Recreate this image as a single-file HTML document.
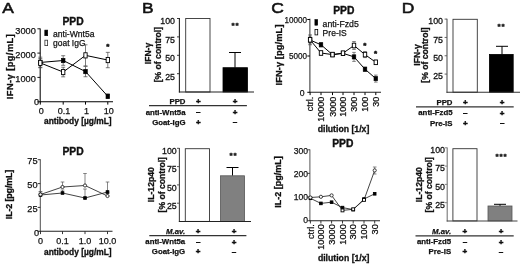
<!DOCTYPE html>
<html lang="en"><head><meta charset="utf-8"><title>Figure</title>
<style>
html,body{margin:0;padding:0;background:#fff;}
body{width:520px;height:265px;overflow:hidden;}
svg{display:block;filter:blur(0.35px);}
svg text{font-family:"Liberation Sans", sans-serif;}
</style></head><body>
<svg width="520" height="265" viewBox="0 0 520 265" style="font-family:'Liberation Sans', sans-serif;fill:#111">
<rect width="520" height="265" fill="#fff" stroke="none"/>
<text x="2.3" y="13.1" text-anchor="start" style="font-size:15.4px;" textLength="11.6" lengthAdjust="spacingAndGlyphs" stroke="#111" stroke-width="0.55">A</text>
<text x="142" y="13.1" text-anchor="start" style="font-size:15.4px;" textLength="11.6" lengthAdjust="spacingAndGlyphs" stroke="#111" stroke-width="0.55">B</text>
<text x="271.2" y="13.1" text-anchor="start" style="font-size:15.4px;" textLength="12.6" lengthAdjust="spacingAndGlyphs" stroke="#111" stroke-width="0.55">C</text>
<text x="401.8" y="13.1" text-anchor="start" style="font-size:15.4px;" textLength="12.6" lengthAdjust="spacingAndGlyphs" stroke="#111" stroke-width="0.55">D</text>
<text x="73" y="25" text-anchor="middle" style="font-size:10.3px;font-weight:bold;" stroke="#111" stroke-width="0.38">PPD</text>
<line x1="40.2" y1="28.400000000000002" x2="40.2" y2="102.3" stroke="#111" stroke-width="1.1"/>
<line x1="37.400000000000006" y1="28.8" x2="40.2" y2="28.8" stroke="#000" stroke-width="0.9"/>
<text x="35.8" y="33.6" text-anchor="end" style="font-size:9.2px;" stroke="#111" stroke-width="0.25">3000</text>
<line x1="37.400000000000006" y1="53.1" x2="40.2" y2="53.1" stroke="#000" stroke-width="0.9"/>
<text x="35.8" y="57.7" text-anchor="end" style="font-size:9.2px;" stroke="#111" stroke-width="0.25">2000</text>
<line x1="37.400000000000006" y1="77.4" x2="40.2" y2="77.4" stroke="#000" stroke-width="0.9"/>
<text x="35.8" y="81.6" text-anchor="end" style="font-size:9.2px;" stroke="#111" stroke-width="0.25">1000</text>
<line x1="37.400000000000006" y1="101.8" x2="40.2" y2="101.8" stroke="#000" stroke-width="0.9"/>
<text x="39" y="105.3" text-anchor="end" style="font-size:9.2px;" stroke="#111" stroke-width="0.25">0</text>
<line x1="39.7" y1="101.8" x2="113" y2="101.8" stroke="#000" stroke-width="1.1"/>
<line x1="40.3" y1="101.8" x2="40.3" y2="104.6" stroke="#000" stroke-width="1"/>
<text x="41.199999999999996" y="113.8" text-anchor="middle" style="font-size:9px;" stroke="#111" stroke-width="0.25">0</text>
<line x1="63.2" y1="101.8" x2="63.2" y2="104.6" stroke="#000" stroke-width="1"/>
<text x="64.10000000000001" y="113.8" text-anchor="middle" style="font-size:9px;" stroke="#111" stroke-width="0.25">0.1</text>
<line x1="85.5" y1="101.8" x2="85.5" y2="104.6" stroke="#000" stroke-width="1"/>
<text x="86.4" y="113.8" text-anchor="middle" style="font-size:9px;" stroke="#111" stroke-width="0.25">1</text>
<line x1="107.8" y1="101.8" x2="107.8" y2="104.6" stroke="#000" stroke-width="1"/>
<text x="108.7" y="113.8" text-anchor="middle" style="font-size:9px;" stroke="#111" stroke-width="0.25">10</text>
<text x="77.8" y="123.8" text-anchor="middle" style="font-size:8.4px;font-weight:bold;" stroke="#111" stroke-width="0.3">antibody [µg/mL]</text>
<text x="12.8" y="66.7" text-anchor="middle" style="font-size:9.3px;font-weight:bold;" transform="rotate(-90 12.8 66.7)" textLength="65" lengthAdjust="spacing" stroke="#111" stroke-width="0.3">IFN-γ  [pg/mL]</text>
<polyline points="40.3,62.919999999999995 63.2,72.03999999999999 85.5,55.36 107.8,60.04" fill="none" stroke="#000" stroke-width="1"/>
<polyline points="40.3,62.44 63.2,60.519999999999996 85.5,71.56 107.8,96.28" fill="none" stroke="#000" stroke-width="1"/>
<line x1="40.3" y1="58.599999999999994" x2="40.3" y2="67.24" stroke="#444" stroke-width="0.7"/>
<line x1="38.3" y1="58.599999999999994" x2="42.3" y2="58.599999999999994" stroke="#444" stroke-width="0.7"/>
<line x1="38.3" y1="67.24" x2="42.3" y2="67.24" stroke="#444" stroke-width="0.7"/>
<line x1="63.2" y1="67.24" x2="63.2" y2="76.84" stroke="#444" stroke-width="0.7"/>
<line x1="61.2" y1="67.24" x2="65.2" y2="67.24" stroke="#444" stroke-width="0.7"/>
<line x1="61.2" y1="76.84" x2="65.2" y2="76.84" stroke="#444" stroke-width="0.7"/>
<line x1="85.5" y1="44.8" x2="85.5" y2="65.91999999999999" stroke="#444" stroke-width="0.7"/>
<line x1="83.5" y1="44.8" x2="87.5" y2="44.8" stroke="#444" stroke-width="0.7"/>
<line x1="83.5" y1="65.91999999999999" x2="87.5" y2="65.91999999999999" stroke="#444" stroke-width="0.7"/>
<line x1="107.8" y1="52.36" x2="107.8" y2="67.72" stroke="#444" stroke-width="0.7"/>
<line x1="105.8" y1="52.36" x2="109.8" y2="52.36" stroke="#444" stroke-width="0.7"/>
<line x1="105.8" y1="67.72" x2="109.8" y2="67.72" stroke="#444" stroke-width="0.7"/>
<line x1="40.3" y1="57.16" x2="40.3" y2="67.72" stroke="#444" stroke-width="0.7"/>
<line x1="38.3" y1="57.16" x2="42.3" y2="57.16" stroke="#444" stroke-width="0.7"/>
<line x1="38.3" y1="67.72" x2="42.3" y2="67.72" stroke="#444" stroke-width="0.7"/>
<line x1="63.2" y1="55.72" x2="63.2" y2="65.32" stroke="#444" stroke-width="0.7"/>
<line x1="61.2" y1="55.72" x2="65.2" y2="55.72" stroke="#444" stroke-width="0.7"/>
<line x1="61.2" y1="65.32" x2="65.2" y2="65.32" stroke="#444" stroke-width="0.7"/>
<line x1="85.5" y1="66.4" x2="85.5" y2="76.72" stroke="#444" stroke-width="0.7"/>
<line x1="83.5" y1="66.4" x2="87.5" y2="66.4" stroke="#444" stroke-width="0.7"/>
<line x1="83.5" y1="76.72" x2="87.5" y2="76.72" stroke="#444" stroke-width="0.7"/>
<line x1="107.8" y1="94.12" x2="107.8" y2="98.44" stroke="#444" stroke-width="0.7"/>
<line x1="105.8" y1="94.12" x2="109.8" y2="94.12" stroke="#444" stroke-width="0.7"/>
<line x1="105.8" y1="98.44" x2="109.8" y2="98.44" stroke="#444" stroke-width="0.7"/>
<rect x="38.5" y="60.24" width="3.6" height="4.4" fill="#000" stroke="#000" stroke-width="0.6"/>
<rect x="61.4" y="58.32" width="3.6" height="4.4" fill="#000" stroke="#000" stroke-width="0.6"/>
<rect x="83.7" y="69.36" width="3.6" height="4.4" fill="#000" stroke="#000" stroke-width="0.6"/>
<rect x="106.0" y="94.08" width="3.6" height="4.4" fill="#000" stroke="#000" stroke-width="0.6"/>
<rect x="38.65" y="60.32" width="3.3" height="5.2" fill="#fff" stroke="#000" stroke-width="0.9"/>
<rect x="61.55" y="69.44" width="3.3" height="5.2" fill="#fff" stroke="#000" stroke-width="0.9"/>
<rect x="83.85" y="52.76" width="3.3" height="5.2" fill="#fff" stroke="#000" stroke-width="0.9"/>
<rect x="106.15" y="57.44" width="3.3" height="5.2" fill="#fff" stroke="#000" stroke-width="0.9"/>
<rect x="44.8" y="30.1" width="2.9" height="5.6" fill="#000" stroke="#000" stroke-width="0.6"/>
<rect x="44.9" y="40.2" width="2.7" height="5.4" fill="#fff" stroke="#333" stroke-width="0.8"/>
<text x="53" y="36.5" text-anchor="start" style="font-size:9px;" textLength="41.5" lengthAdjust="spacingAndGlyphs" stroke="#111" stroke-width="0.25">anti-Wnt5a</text>
<text x="53" y="45.8" text-anchor="start" style="font-size:9px;" textLength="32.5" lengthAdjust="spacingAndGlyphs" stroke="#111" stroke-width="0.25">goat IgG</text>
<text x="107.9" y="48.8" text-anchor="middle" style="font-size:8px;font-weight:bold;" stroke="#111" stroke-width="0.5">*</text>
<text x="73" y="155" text-anchor="middle" style="font-size:10.3px;font-weight:bold;" stroke="#111" stroke-width="0.38">PPD</text>
<line x1="40.3" y1="159.29999999999998" x2="40.3" y2="231.8" stroke="#444" stroke-width="0.95"/>
<line x1="37.699999999999996" y1="159.7" x2="40.3" y2="159.7" stroke="#222" stroke-width="0.9"/>
<text x="37.6" y="164.0" text-anchor="end" style="font-size:9.2px;" stroke="#111" stroke-width="0.25">75</text>
<line x1="37.699999999999996" y1="183.6" x2="40.3" y2="183.6" stroke="#222" stroke-width="0.9"/>
<text x="37.6" y="188.0" text-anchor="end" style="font-size:9.2px;" stroke="#111" stroke-width="0.25">50</text>
<line x1="37.699999999999996" y1="207.4" x2="40.3" y2="207.4" stroke="#222" stroke-width="0.9"/>
<text x="37.6" y="211.9" text-anchor="end" style="font-size:9.2px;" stroke="#111" stroke-width="0.25">25</text>
<line x1="37.699999999999996" y1="231.3" x2="40.3" y2="231.3" stroke="#222" stroke-width="0.9"/>
<text x="39" y="235.5" text-anchor="end" style="font-size:9.2px;" stroke="#111" stroke-width="0.25">0</text>
<line x1="39.8" y1="231.3" x2="112.5" y2="231.3" stroke="#222" stroke-width="1.05"/>
<line x1="40.5" y1="231.3" x2="40.5" y2="234.10000000000002" stroke="#222" stroke-width="0.9"/>
<text x="40.5" y="244" text-anchor="middle" style="font-size:9px;" stroke="#111" stroke-width="0.25">0</text>
<line x1="62.5" y1="231.3" x2="62.5" y2="234.10000000000002" stroke="#222" stroke-width="0.9"/>
<text x="62.5" y="244" text-anchor="middle" style="font-size:9px;" stroke="#111" stroke-width="0.25">0.1</text>
<line x1="85" y1="231.3" x2="85" y2="234.10000000000002" stroke="#222" stroke-width="0.9"/>
<text x="85" y="244" text-anchor="middle" style="font-size:9px;" stroke="#111" stroke-width="0.25">1.0</text>
<line x1="107.5" y1="231.3" x2="107.5" y2="234.10000000000002" stroke="#222" stroke-width="0.9"/>
<text x="107.5" y="244" text-anchor="middle" style="font-size:9px;" stroke="#111" stroke-width="0.25">10.0</text>
<text x="77.8" y="255" text-anchor="middle" style="font-size:8.4px;font-weight:bold;" stroke="#111" stroke-width="0.3">antibody [µg/mL]</text>
<text x="12" y="194.4" text-anchor="middle" style="font-size:9px;font-weight:bold;" transform="rotate(-90 12 194.4)" textLength="49.5" lengthAdjust="spacing" stroke="#111" stroke-width="0.3">IL-2 [pg/mL]</text>
<polyline points="40.5,194.5 62.5,187 85,185.5 107.5,196" fill="none" stroke="#222" stroke-width="0.85"/>
<polyline points="40.5,195 62.5,193 85,198 107.5,192" fill="none" stroke="#222" stroke-width="0.85"/>
<line x1="40.5" y1="191.5" x2="40.5" y2="194.5" stroke="#555" stroke-width="0.7"/>
<line x1="38.7" y1="191.5" x2="42.3" y2="191.5" stroke="#555" stroke-width="0.7"/>
<line x1="38.7" y1="194.5" x2="42.3" y2="194.5" stroke="#555" stroke-width="0.7"/>
<line x1="62.5" y1="182" x2="62.5" y2="187" stroke="#555" stroke-width="0.7"/>
<line x1="60.7" y1="182" x2="64.3" y2="182" stroke="#555" stroke-width="0.7"/>
<line x1="60.7" y1="187" x2="64.3" y2="187" stroke="#555" stroke-width="0.7"/>
<line x1="85" y1="173.5" x2="85" y2="185.5" stroke="#555" stroke-width="0.7"/>
<line x1="83.2" y1="173.5" x2="86.8" y2="173.5" stroke="#555" stroke-width="0.7"/>
<line x1="83.2" y1="185.5" x2="86.8" y2="185.5" stroke="#555" stroke-width="0.7"/>
<line x1="107.5" y1="193" x2="107.5" y2="196" stroke="#555" stroke-width="0.7"/>
<line x1="105.7" y1="193" x2="109.3" y2="193" stroke="#555" stroke-width="0.7"/>
<line x1="105.7" y1="196" x2="109.3" y2="196" stroke="#555" stroke-width="0.7"/>
<line x1="40.5" y1="192" x2="40.5" y2="195" stroke="#555" stroke-width="0.7"/>
<line x1="38.7" y1="192" x2="42.3" y2="192" stroke="#555" stroke-width="0.7"/>
<line x1="38.7" y1="195" x2="42.3" y2="195" stroke="#555" stroke-width="0.7"/>
<line x1="62.5" y1="190" x2="62.5" y2="193" stroke="#555" stroke-width="0.7"/>
<line x1="60.7" y1="190" x2="64.3" y2="190" stroke="#555" stroke-width="0.7"/>
<line x1="60.7" y1="193" x2="64.3" y2="193" stroke="#555" stroke-width="0.7"/>
<line x1="85" y1="189" x2="85" y2="198" stroke="#555" stroke-width="0.7"/>
<line x1="83.2" y1="189" x2="86.8" y2="189" stroke="#555" stroke-width="0.7"/>
<line x1="83.2" y1="198" x2="86.8" y2="198" stroke="#555" stroke-width="0.7"/>
<line x1="107.5" y1="182" x2="107.5" y2="192" stroke="#555" stroke-width="0.7"/>
<line x1="105.7" y1="182" x2="109.3" y2="182" stroke="#555" stroke-width="0.7"/>
<line x1="105.7" y1="192" x2="109.3" y2="192" stroke="#555" stroke-width="0.7"/>
<rect x="39.2" y="193.7" width="2.6" height="2.6" fill="#000" stroke="#000" stroke-width="0.9"/>
<rect x="61.2" y="191.7" width="2.6" height="2.6" fill="#000" stroke="#000" stroke-width="0.9"/>
<rect x="83.7" y="196.7" width="2.6" height="2.6" fill="#000" stroke="#000" stroke-width="0.9"/>
<rect x="106.2" y="190.7" width="2.6" height="2.6" fill="#000" stroke="#000" stroke-width="0.9"/>
<circle cx="40.5" cy="194.5" r="1.6" fill="#fff" stroke="#111" stroke-width="0.8"/>
<circle cx="62.5" cy="187" r="1.6" fill="#fff" stroke="#111" stroke-width="0.8"/>
<circle cx="85" cy="185.5" r="1.6" fill="#fff" stroke="#111" stroke-width="0.8"/>
<circle cx="107.5" cy="196" r="1.6" fill="#fff" stroke="#111" stroke-width="0.8"/>
<rect x="185.7" y="18.5" width="24.30000000000001" height="73.5" fill="#fff" stroke="#333" stroke-width="0.9"/>
<line x1="235" y1="52.5" x2="235" y2="67.7" stroke="#000" stroke-width="1"/>
<line x1="229" y1="52.5" x2="241" y2="52.5" stroke="#000" stroke-width="1"/>
<rect x="223" y="67.7" width="24.5" height="24.299999999999997" fill="#000" stroke="#000" stroke-width="0.8"/>
<line x1="179.4" y1="18.1" x2="179.4" y2="92.5" stroke="#222" stroke-width="1.1"/>
<line x1="177.0" y1="18.5" x2="179.4" y2="18.5" stroke="#222" stroke-width="0.9"/>
<text x="175" y="24.4" text-anchor="end" style="font-size:9.5px;" textLength="14.7" lengthAdjust="spacingAndGlyphs" stroke="#111" stroke-width="0.3">100</text>
<line x1="177.0" y1="36.9" x2="179.4" y2="36.9" stroke="#222" stroke-width="0.9"/>
<text x="175" y="42.8" text-anchor="end" style="font-size:9.5px;" textLength="9.8" lengthAdjust="spacingAndGlyphs" stroke="#111" stroke-width="0.3">75</text>
<line x1="177.0" y1="55.3" x2="179.4" y2="55.3" stroke="#222" stroke-width="0.9"/>
<text x="175" y="61.2" text-anchor="end" style="font-size:9.5px;" textLength="9.8" lengthAdjust="spacingAndGlyphs" stroke="#111" stroke-width="0.3">50</text>
<line x1="177.0" y1="73.7" x2="179.4" y2="73.7" stroke="#222" stroke-width="0.9"/>
<text x="175" y="79.6" text-anchor="end" style="font-size:9.5px;" textLength="9.8" lengthAdjust="spacingAndGlyphs" stroke="#111" stroke-width="0.3">25</text>
<line x1="178.9" y1="92" x2="254" y2="92" stroke="#222" stroke-width="1.05"/>
<text x="235.4" y="28.0" text-anchor="middle" style="font-size:8px;font-weight:bold;" stroke="#111" stroke-width="0.4" letter-spacing="0.9">**</text>
<text x="150.8" y="53.5" text-anchor="middle" style="font-size:8.6px;font-weight:bold;" transform="rotate(-90 150.8 53.5)" stroke="#111" stroke-width="0.3">IFN-γ</text>
<text x="161.3" y="54.6" text-anchor="middle" style="font-size:8.6px;font-weight:bold;" transform="rotate(-90 161.3 54.6)" stroke="#111" stroke-width="0.3">[% of control]</text>
<text x="185.5" y="103.8" text-anchor="end" style="font-size:7.8px;font-weight:bold;" stroke="#111" stroke-width="0.25">PPD</text>
<text x="198.3" y="104.0" text-anchor="middle" style="font-size:8px;font-weight:bold;" stroke="#111" stroke-width="0.5">+</text>
<text x="235" y="104.0" text-anchor="middle" style="font-size:8px;font-weight:bold;" stroke="#111" stroke-width="0.5">+</text>
<text x="185.5" y="114.5" text-anchor="end" style="font-size:7.8px;font-weight:bold;" stroke="#111" stroke-width="0.25">anti-Wnt5a</text>
<text x="198.3" y="114.2" text-anchor="middle" style="font-size:8px;font-weight:bold;" stroke="#111" stroke-width="0.5">–</text>
<text x="235" y="114.7" text-anchor="middle" style="font-size:8px;font-weight:bold;" stroke="#111" stroke-width="0.5">+</text>
<text x="185.5" y="124.6" text-anchor="end" style="font-size:7.8px;font-weight:bold;" stroke="#111" stroke-width="0.25">Goat-IgG</text>
<text x="198.3" y="124.8" text-anchor="middle" style="font-size:8px;font-weight:bold;" stroke="#111" stroke-width="0.5">+</text>
<text x="235" y="124.3" text-anchor="middle" style="font-size:8px;font-weight:bold;" stroke="#111" stroke-width="0.5">–</text>
<line x1="149" y1="105.6" x2="246.9" y2="105.6" stroke="#333" stroke-width="1.2"/>
<rect x="185.3" y="148.7" width="24.19999999999999" height="72.70000000000002" fill="#fff" stroke="#333" stroke-width="0.9"/>
<line x1="232.5" y1="167.5" x2="232.5" y2="175.8" stroke="#000" stroke-width="1"/>
<line x1="226.5" y1="167.5" x2="238.5" y2="167.5" stroke="#000" stroke-width="1"/>
<rect x="220.5" y="175.8" width="24.0" height="45.599999999999994" fill="#808080" stroke="#555" stroke-width="0.8"/>
<line x1="179.4" y1="147.9" x2="179.4" y2="221.9" stroke="#444" stroke-width="1.1"/>
<line x1="177.0" y1="148.3" x2="179.4" y2="148.3" stroke="#444" stroke-width="0.9"/>
<text x="176.7" y="154.0" text-anchor="end" style="font-size:9.5px;" textLength="14.7" lengthAdjust="spacingAndGlyphs" stroke="#111" stroke-width="0.3">100</text>
<line x1="177.0" y1="166.6" x2="179.4" y2="166.6" stroke="#444" stroke-width="0.9"/>
<text x="176.7" y="172.3" text-anchor="end" style="font-size:9.5px;" textLength="9.8" lengthAdjust="spacingAndGlyphs" stroke="#111" stroke-width="0.3">75</text>
<line x1="177.0" y1="184.9" x2="179.4" y2="184.9" stroke="#444" stroke-width="0.9"/>
<text x="176.7" y="190.6" text-anchor="end" style="font-size:9.5px;" textLength="9.8" lengthAdjust="spacingAndGlyphs" stroke="#111" stroke-width="0.3">50</text>
<line x1="177.0" y1="203.2" x2="179.4" y2="203.2" stroke="#444" stroke-width="0.9"/>
<text x="176.7" y="208.9" text-anchor="end" style="font-size:9.5px;" textLength="9.8" lengthAdjust="spacingAndGlyphs" stroke="#111" stroke-width="0.3">25</text>
<line x1="178.9" y1="221.4" x2="251" y2="221.4" stroke="#222" stroke-width="1.05"/>
<text x="233.4" y="158.0" text-anchor="middle" style="font-size:8px;font-weight:bold;" stroke="#111" stroke-width="0.4" letter-spacing="0.9">**</text>
<text x="154.3" y="184.7" text-anchor="middle" style="font-size:8.6px;font-weight:bold;" transform="rotate(-90 154.3 184.7)" stroke="#111" stroke-width="0.3">IL-12p40</text>
<text x="164.6" y="184.7" text-anchor="middle" style="font-size:8.6px;font-weight:bold;" transform="rotate(-90 164.6 184.7)" stroke="#111" stroke-width="0.3">[% of control]</text>
<text x="185.2" y="234.10000000000002" text-anchor="end" style="font-size:7.8px;font-weight:bold;font-style:italic;" stroke="#111" stroke-width="0.25">M.av.</text>
<text x="198.2" y="234.3" text-anchor="middle" style="font-size:8px;font-weight:bold;" stroke="#111" stroke-width="0.5">+</text>
<text x="234" y="234.3" text-anchor="middle" style="font-size:8px;font-weight:bold;" stroke="#111" stroke-width="0.5">+</text>
<text x="185.2" y="244.4" text-anchor="end" style="font-size:7.8px;font-weight:bold;" stroke="#111" stroke-width="0.25">anti-Wnt5a</text>
<text x="198.2" y="244.1" text-anchor="middle" style="font-size:8px;font-weight:bold;" stroke="#111" stroke-width="0.5">–</text>
<text x="234" y="244.6" text-anchor="middle" style="font-size:8px;font-weight:bold;" stroke="#111" stroke-width="0.5">+</text>
<text x="185.2" y="254.20000000000002" text-anchor="end" style="font-size:7.8px;font-weight:bold;" stroke="#111" stroke-width="0.25">Goat-IgG</text>
<text x="198.2" y="254.4" text-anchor="middle" style="font-size:8px;font-weight:bold;" stroke="#111" stroke-width="0.5">+</text>
<text x="234" y="253.9" text-anchor="middle" style="font-size:8px;font-weight:bold;" stroke="#111" stroke-width="0.5">–</text>
<line x1="149.3" y1="235.6" x2="246.4" y2="235.6" stroke="#333" stroke-width="1.2"/>
<rect x="453" y="19.3" width="24.30000000000001" height="72.9" fill="#fff" stroke="#333" stroke-width="0.9"/>
<line x1="502" y1="46.3" x2="502" y2="54.4" stroke="#000" stroke-width="1"/>
<line x1="496" y1="46.3" x2="508" y2="46.3" stroke="#000" stroke-width="1"/>
<rect x="489.4" y="54.4" width="23.800000000000068" height="37.800000000000004" fill="#000" stroke="#000" stroke-width="0.8"/>
<line x1="447" y1="18.700000000000003" x2="447" y2="92.7" stroke="#555" stroke-width="1.1"/>
<line x1="444.6" y1="19.1" x2="447" y2="19.1" stroke="#555" stroke-width="0.9"/>
<text x="443" y="24.2" text-anchor="end" style="font-size:9.5px;" textLength="14.7" lengthAdjust="spacingAndGlyphs" stroke="#111" stroke-width="0.3">100</text>
<line x1="444.6" y1="37.43" x2="447" y2="37.43" stroke="#555" stroke-width="0.9"/>
<text x="443" y="42.53" text-anchor="end" style="font-size:9.5px;" textLength="9.8" lengthAdjust="spacingAndGlyphs" stroke="#111" stroke-width="0.3">75</text>
<line x1="444.6" y1="55.76" x2="447" y2="55.76" stroke="#555" stroke-width="0.9"/>
<text x="443" y="60.86" text-anchor="end" style="font-size:9.5px;" textLength="9.8" lengthAdjust="spacingAndGlyphs" stroke="#111" stroke-width="0.3">50</text>
<line x1="444.6" y1="74.09" x2="447" y2="74.09" stroke="#555" stroke-width="0.9"/>
<text x="443" y="79.19" text-anchor="end" style="font-size:9.5px;" textLength="9.8" lengthAdjust="spacingAndGlyphs" stroke="#111" stroke-width="0.3">25</text>
<line x1="446.5" y1="92.2" x2="520" y2="92.2" stroke="#333" stroke-width="1.05"/>
<text x="501.4" y="29.2" text-anchor="middle" style="font-size:8px;font-weight:bold;" stroke="#111" stroke-width="0.4" letter-spacing="0.9">**</text>
<text x="419.6" y="55" text-anchor="middle" style="font-size:8.6px;font-weight:bold;" transform="rotate(-90 419.6 55)" stroke="#111" stroke-width="0.3">IFN-γ</text>
<text x="428.4" y="55" text-anchor="middle" style="font-size:8.6px;font-weight:bold;" transform="rotate(-90 428.4 55)" stroke="#111" stroke-width="0.3">[% of control]</text>
<text x="452.5" y="105.0" text-anchor="end" style="font-size:7.8px;font-weight:bold;" stroke="#111" stroke-width="0.25">PPD</text>
<text x="465.3" y="105.2" text-anchor="middle" style="font-size:8px;font-weight:bold;" stroke="#111" stroke-width="0.5">+</text>
<text x="502.2" y="105.2" text-anchor="middle" style="font-size:8px;font-weight:bold;" stroke="#111" stroke-width="0.5">+</text>
<text x="452.5" y="115.39999999999999" text-anchor="end" style="font-size:7.8px;font-weight:bold;" stroke="#111" stroke-width="0.25">anti-Fzd5</text>
<text x="465.3" y="115.1" text-anchor="middle" style="font-size:8px;font-weight:bold;" stroke="#111" stroke-width="0.5">–</text>
<text x="502.2" y="115.6" text-anchor="middle" style="font-size:8px;font-weight:bold;" stroke="#111" stroke-width="0.5">+</text>
<text x="452.5" y="125.5" text-anchor="end" style="font-size:7.8px;font-weight:bold;" stroke="#111" stroke-width="0.25">Pre-IS</text>
<text x="465.3" y="125.7" text-anchor="middle" style="font-size:8px;font-weight:bold;" stroke="#111" stroke-width="0.5">+</text>
<text x="502.2" y="125.2" text-anchor="middle" style="font-size:8px;font-weight:bold;" stroke="#111" stroke-width="0.5">–</text>
<line x1="416" y1="106.8" x2="513.7" y2="106.8" stroke="#333" stroke-width="1.2"/>
<rect x="452.9" y="148.7" width="24.100000000000023" height="72.20000000000002" fill="#fff" stroke="#333" stroke-width="0.9"/>
<line x1="500" y1="204.3" x2="500" y2="206" stroke="#000" stroke-width="1"/>
<line x1="494" y1="204.3" x2="506" y2="204.3" stroke="#000" stroke-width="1"/>
<rect x="488" y="206" width="24" height="14.900000000000006" fill="#808080" stroke="#555" stroke-width="0.8"/>
<line x1="447.2" y1="147.4" x2="447.2" y2="221.4" stroke="#777" stroke-width="1.1"/>
<line x1="444.8" y1="147.8" x2="447.2" y2="147.8" stroke="#777" stroke-width="0.9"/>
<text x="445" y="153.0" text-anchor="end" style="font-size:9.5px;" textLength="14.7" lengthAdjust="spacingAndGlyphs" stroke="#111" stroke-width="0.3">100</text>
<line x1="444.8" y1="166.1" x2="447.2" y2="166.1" stroke="#777" stroke-width="0.9"/>
<text x="445" y="171.3" text-anchor="end" style="font-size:9.5px;" textLength="9.8" lengthAdjust="spacingAndGlyphs" stroke="#111" stroke-width="0.3">75</text>
<line x1="444.8" y1="184.4" x2="447.2" y2="184.4" stroke="#777" stroke-width="0.9"/>
<text x="445" y="189.6" text-anchor="end" style="font-size:9.5px;" textLength="9.8" lengthAdjust="spacingAndGlyphs" stroke="#111" stroke-width="0.3">50</text>
<line x1="444.8" y1="202.7" x2="447.2" y2="202.7" stroke="#777" stroke-width="0.9"/>
<text x="445" y="207.9" text-anchor="end" style="font-size:9.5px;" textLength="9.8" lengthAdjust="spacingAndGlyphs" stroke="#111" stroke-width="0.3">25</text>
<line x1="446.7" y1="220.9" x2="517.5" y2="220.9" stroke="#444" stroke-width="1.05"/>
<text x="501.4" y="158.6" text-anchor="middle" style="font-size:8px;font-weight:bold;" stroke="#111" stroke-width="0.4" letter-spacing="0.9">***</text>
<text x="422.2" y="184.7" text-anchor="middle" style="font-size:8.6px;font-weight:bold;" transform="rotate(-90 422.2 184.7)" stroke="#111" stroke-width="0.3">IL-12p40</text>
<text x="431.8" y="184.7" text-anchor="middle" style="font-size:8.6px;font-weight:bold;" transform="rotate(-90 431.8 184.7)" stroke="#111" stroke-width="0.3">[% of control]</text>
<text x="451.1" y="234.10000000000002" text-anchor="end" style="font-size:7.8px;font-weight:bold;font-style:italic;" stroke="#111" stroke-width="0.25">M.av.</text>
<text x="464.9" y="234.3" text-anchor="middle" style="font-size:8px;font-weight:bold;" stroke="#111" stroke-width="0.5">+</text>
<text x="501" y="234.3" text-anchor="middle" style="font-size:8px;font-weight:bold;" stroke="#111" stroke-width="0.5">+</text>
<text x="451.1" y="244.4" text-anchor="end" style="font-size:7.8px;font-weight:bold;" stroke="#111" stroke-width="0.25">anti-Fzd5</text>
<text x="464.9" y="244.1" text-anchor="middle" style="font-size:8px;font-weight:bold;" stroke="#111" stroke-width="0.5">–</text>
<text x="501" y="244.6" text-anchor="middle" style="font-size:8px;font-weight:bold;" stroke="#111" stroke-width="0.5">+</text>
<text x="451.1" y="254.20000000000002" text-anchor="end" style="font-size:7.8px;font-weight:bold;" stroke="#111" stroke-width="0.25">Pre-IS</text>
<text x="464.9" y="254.4" text-anchor="middle" style="font-size:8px;font-weight:bold;" stroke="#111" stroke-width="0.5">+</text>
<text x="501" y="253.9" text-anchor="middle" style="font-size:8px;font-weight:bold;" stroke="#111" stroke-width="0.5">–</text>
<line x1="415.5" y1="235.8" x2="513.7" y2="235.8" stroke="#333" stroke-width="1.2"/>
<text x="343.8" y="14.3" text-anchor="middle" style="font-size:10.3px;font-weight:bold;" stroke="#111" stroke-width="0.38">PPD</text>
<line x1="309.9" y1="18.7" x2="309.9" y2="92.8" stroke="#222" stroke-width="0.95"/>
<line x1="307.29999999999995" y1="19.5" x2="309.9" y2="19.5" stroke="#000" stroke-width="1"/>
<text x="307.09999999999997" y="22.85" text-anchor="end" style="font-size:9.3px;" textLength="22.5" lengthAdjust="spacingAndGlyphs" stroke="#111" stroke-width="0.25">10000</text>
<line x1="307.29999999999995" y1="56" x2="309.9" y2="56" stroke="#000" stroke-width="1"/>
<text x="307.09999999999997" y="59.35" text-anchor="end" style="font-size:9.3px;" textLength="18" lengthAdjust="spacingAndGlyphs" stroke="#111" stroke-width="0.25">5000</text>
<line x1="307.29999999999995" y1="92.3" x2="309.9" y2="92.3" stroke="#000" stroke-width="1"/>
<text x="304.49999999999994" y="95.65" text-anchor="end" style="font-size:9.3px;" textLength="4.8" lengthAdjust="spacingAndGlyphs" stroke="#111" stroke-width="0.25">0</text>
<line x1="309.4" y1="92.3" x2="381" y2="92.3" stroke="#222" stroke-width="1.1"/>
<line x1="310.1" y1="92.3" x2="310.1" y2="95.1" stroke="#000" stroke-width="1"/>
<text x="313.3" y="96.7" text-anchor="end" style="font-size:9px;" transform="rotate(-90 313.3 96.7)" stroke="#111" stroke-width="0.25">ctrl.</text>
<line x1="321" y1="92.3" x2="321" y2="95.1" stroke="#000" stroke-width="1"/>
<text x="324.2" y="96.7" text-anchor="end" style="font-size:9px;" transform="rotate(-90 324.2 96.7)" stroke="#111" stroke-width="0.25">10000</text>
<line x1="332.5" y1="92.3" x2="332.5" y2="95.1" stroke="#000" stroke-width="1"/>
<text x="335.7" y="96.7" text-anchor="end" style="font-size:9px;" transform="rotate(-90 335.7 96.7)" stroke="#111" stroke-width="0.25">3000</text>
<line x1="343" y1="92.3" x2="343" y2="95.1" stroke="#000" stroke-width="1"/>
<text x="346.2" y="96.7" text-anchor="end" style="font-size:9px;" transform="rotate(-90 346.2 96.7)" stroke="#111" stroke-width="0.25">1000</text>
<line x1="354" y1="92.3" x2="354" y2="95.1" stroke="#000" stroke-width="1"/>
<text x="357.2" y="96.7" text-anchor="end" style="font-size:9px;" transform="rotate(-90 357.2 96.7)" stroke="#111" stroke-width="0.25">300</text>
<line x1="365" y1="92.3" x2="365" y2="95.1" stroke="#000" stroke-width="1"/>
<text x="368.2" y="96.7" text-anchor="end" style="font-size:9px;" transform="rotate(-90 368.2 96.7)" stroke="#111" stroke-width="0.25">100</text>
<line x1="375.8" y1="92.3" x2="375.8" y2="95.1" stroke="#000" stroke-width="1"/>
<text x="379.0" y="96.7" text-anchor="end" style="font-size:9px;" transform="rotate(-90 379.0 96.7)" stroke="#111" stroke-width="0.25">30</text>
<text x="343.5" y="131.9" text-anchor="middle" style="font-size:8.7px;font-weight:bold;" stroke="#111" stroke-width="0.3">dilution [1/x]</text>
<text x="282.3" y="55" text-anchor="middle" style="font-size:9.3px;font-weight:bold;" transform="rotate(-90 282.3 55)" textLength="61" lengthAdjust="spacing" stroke="#111" stroke-width="0.3">IFN-γ  [pg/mL]</text>
<polyline points="310.1,39.8 321,53 332.5,54.6 343,53.2 354,45.5 365,54.6 375.8,62.3" fill="none" stroke="#000" stroke-width="1"/>
<polyline points="310.1,40 321,44.8 332.5,54.7 343,53.3 354,56.9 365,69.2 375.8,78.6" fill="none" stroke="#000" stroke-width="1"/>
<line x1="310.1" y1="34.8" x2="310.1" y2="44.8" stroke="#555" stroke-width="0.7"/>
<line x1="308.3" y1="34.8" x2="311.90000000000003" y2="34.8" stroke="#555" stroke-width="0.7"/>
<line x1="308.3" y1="44.8" x2="311.90000000000003" y2="44.8" stroke="#555" stroke-width="0.7"/>
<line x1="321" y1="51" x2="321" y2="55" stroke="#555" stroke-width="0.7"/>
<line x1="319.2" y1="51" x2="322.8" y2="51" stroke="#555" stroke-width="0.7"/>
<line x1="319.2" y1="55" x2="322.8" y2="55" stroke="#555" stroke-width="0.7"/>
<line x1="332.5" y1="53.1" x2="332.5" y2="56.1" stroke="#555" stroke-width="0.7"/>
<line x1="330.7" y1="53.1" x2="334.3" y2="53.1" stroke="#555" stroke-width="0.7"/>
<line x1="330.7" y1="56.1" x2="334.3" y2="56.1" stroke="#555" stroke-width="0.7"/>
<line x1="343" y1="51.7" x2="343" y2="54.7" stroke="#555" stroke-width="0.7"/>
<line x1="341.2" y1="51.7" x2="344.8" y2="51.7" stroke="#555" stroke-width="0.7"/>
<line x1="341.2" y1="54.7" x2="344.8" y2="54.7" stroke="#555" stroke-width="0.7"/>
<line x1="354" y1="41.5" x2="354" y2="49.5" stroke="#555" stroke-width="0.7"/>
<line x1="352.2" y1="41.5" x2="355.8" y2="41.5" stroke="#555" stroke-width="0.7"/>
<line x1="352.2" y1="49.5" x2="355.8" y2="49.5" stroke="#555" stroke-width="0.7"/>
<line x1="365" y1="51.6" x2="365" y2="57.6" stroke="#555" stroke-width="0.7"/>
<line x1="363.2" y1="51.6" x2="366.8" y2="51.6" stroke="#555" stroke-width="0.7"/>
<line x1="363.2" y1="57.6" x2="366.8" y2="57.6" stroke="#555" stroke-width="0.7"/>
<line x1="375.8" y1="60.3" x2="375.8" y2="64.3" stroke="#555" stroke-width="0.7"/>
<line x1="374.0" y1="60.3" x2="377.6" y2="60.3" stroke="#555" stroke-width="0.7"/>
<line x1="374.0" y1="64.3" x2="377.6" y2="64.3" stroke="#555" stroke-width="0.7"/>
<line x1="310.1" y1="36" x2="310.1" y2="44" stroke="#555" stroke-width="0.7"/>
<line x1="308.3" y1="36" x2="311.90000000000003" y2="36" stroke="#555" stroke-width="0.7"/>
<line x1="308.3" y1="44" x2="311.90000000000003" y2="44" stroke="#555" stroke-width="0.7"/>
<line x1="321" y1="42.8" x2="321" y2="46.8" stroke="#555" stroke-width="0.7"/>
<line x1="319.2" y1="42.8" x2="322.8" y2="42.8" stroke="#555" stroke-width="0.7"/>
<line x1="319.2" y1="46.8" x2="322.8" y2="46.8" stroke="#555" stroke-width="0.7"/>
<line x1="332.5" y1="53.2" x2="332.5" y2="56.2" stroke="#555" stroke-width="0.7"/>
<line x1="330.7" y1="53.2" x2="334.3" y2="53.2" stroke="#555" stroke-width="0.7"/>
<line x1="330.7" y1="56.2" x2="334.3" y2="56.2" stroke="#555" stroke-width="0.7"/>
<line x1="343" y1="51.8" x2="343" y2="54.8" stroke="#555" stroke-width="0.7"/>
<line x1="341.2" y1="51.8" x2="344.8" y2="51.8" stroke="#555" stroke-width="0.7"/>
<line x1="341.2" y1="54.8" x2="344.8" y2="54.8" stroke="#555" stroke-width="0.7"/>
<line x1="354" y1="52.4" x2="354" y2="61.4" stroke="#555" stroke-width="0.7"/>
<line x1="352.2" y1="52.4" x2="355.8" y2="52.4" stroke="#555" stroke-width="0.7"/>
<line x1="352.2" y1="61.4" x2="355.8" y2="61.4" stroke="#555" stroke-width="0.7"/>
<line x1="365" y1="67.2" x2="365" y2="71.2" stroke="#555" stroke-width="0.7"/>
<line x1="363.2" y1="67.2" x2="366.8" y2="67.2" stroke="#555" stroke-width="0.7"/>
<line x1="363.2" y1="71.2" x2="366.8" y2="71.2" stroke="#555" stroke-width="0.7"/>
<line x1="375.8" y1="75.1" x2="375.8" y2="82.1" stroke="#555" stroke-width="0.7"/>
<line x1="374.0" y1="75.1" x2="377.6" y2="75.1" stroke="#555" stroke-width="0.7"/>
<line x1="374.0" y1="82.1" x2="377.6" y2="82.1" stroke="#555" stroke-width="0.7"/>
<rect x="308.3" y="37.9" width="3.6" height="4.2" fill="#000" stroke="#000" stroke-width="0.6"/>
<rect x="319.2" y="42.7" width="3.6" height="4.2" fill="#000" stroke="#000" stroke-width="0.6"/>
<rect x="330.7" y="52.6" width="3.6" height="4.2" fill="#000" stroke="#000" stroke-width="0.6"/>
<rect x="341.2" y="51.2" width="3.6" height="4.2" fill="#000" stroke="#000" stroke-width="0.6"/>
<rect x="352.2" y="54.8" width="3.6" height="4.2" fill="#000" stroke="#000" stroke-width="0.6"/>
<rect x="363.2" y="67.1" width="3.6" height="4.2" fill="#000" stroke="#000" stroke-width="0.6"/>
<rect x="374.0" y="76.5" width="3.6" height="4.2" fill="#000" stroke="#000" stroke-width="0.6"/>
<rect x="308.4" y="37.5" width="3.4" height="4.6" fill="#fff" stroke="#000" stroke-width="0.9"/>
<rect x="319.3" y="50.7" width="3.4" height="4.6" fill="#fff" stroke="#000" stroke-width="0.9"/>
<rect x="330.8" y="52.3" width="3.4" height="4.6" fill="#fff" stroke="#000" stroke-width="0.9"/>
<rect x="341.3" y="50.9" width="3.4" height="4.6" fill="#fff" stroke="#000" stroke-width="0.9"/>
<rect x="352.3" y="43.2" width="3.4" height="4.6" fill="#fff" stroke="#000" stroke-width="0.9"/>
<rect x="363.3" y="52.3" width="3.4" height="4.6" fill="#fff" stroke="#000" stroke-width="0.9"/>
<rect x="374.1" y="60.0" width="3.4" height="4.6" fill="#fff" stroke="#000" stroke-width="0.9"/>
<rect x="314.9" y="19.6" width="2.8" height="5.6" fill="#000" stroke="#000" stroke-width="0.6"/>
<rect x="315" y="29.5" width="2.7" height="5.4" fill="#fff" stroke="#000" stroke-width="0.8"/>
<text x="322.6" y="26.5" text-anchor="start" style="font-size:9.2px;" textLength="36.2" lengthAdjust="spacingAndGlyphs" stroke="#111" stroke-width="0.25">anti-Fzd5</text>
<text x="322.6" y="35.6" text-anchor="start" style="font-size:9.2px;" textLength="24.2" lengthAdjust="spacingAndGlyphs" stroke="#111" stroke-width="0.25">Pre-IS</text>
<text x="364.7" y="48.1" text-anchor="middle" style="font-size:8px;font-weight:bold;" stroke="#111" stroke-width="0.5">*</text>
<text x="375.5" y="55.6" text-anchor="middle" style="font-size:8px;font-weight:bold;" stroke="#111" stroke-width="0.5">*</text>
<text x="342.8" y="147.3" text-anchor="middle" style="font-size:10.3px;font-weight:bold;" stroke="#111" stroke-width="0.38">PPD</text>
<line x1="309.9" y1="149.4" x2="309.9" y2="221.2" stroke="#444" stroke-width="0.9"/>
<line x1="307.5" y1="149.8" x2="309.9" y2="149.8" stroke="#333" stroke-width="0.9"/>
<text x="308" y="154.0" text-anchor="end" style="font-size:9.2px;" textLength="14.3" lengthAdjust="spacingAndGlyphs" stroke="#111" stroke-width="0.25">300</text>
<line x1="307.5" y1="173.4" x2="309.9" y2="173.4" stroke="#333" stroke-width="0.9"/>
<text x="308" y="177.4" text-anchor="end" style="font-size:9.2px;" textLength="14.3" lengthAdjust="spacingAndGlyphs" stroke="#111" stroke-width="0.25">200</text>
<line x1="307.5" y1="197" x2="309.9" y2="197" stroke="#333" stroke-width="0.9"/>
<text x="308" y="200.2" text-anchor="end" style="font-size:9.2px;" textLength="14.3" lengthAdjust="spacingAndGlyphs" stroke="#111" stroke-width="0.25">100</text>
<line x1="307.5" y1="220.7" x2="309.9" y2="220.7" stroke="#333" stroke-width="0.9"/>
<text x="308" y="223.2" text-anchor="end" style="font-size:9.2px;" textLength="4.8" lengthAdjust="spacingAndGlyphs" stroke="#111" stroke-width="0.25">0</text>
<line x1="309.4" y1="220.7" x2="380" y2="220.7" stroke="#222" stroke-width="1.05"/>
<line x1="310.4" y1="220.7" x2="310.4" y2="223.5" stroke="#222" stroke-width="0.9"/>
<text x="313.59999999999997" y="224.2" text-anchor="end" style="font-size:9.2px;" transform="rotate(-90 313.59999999999997 224.2)" stroke="#111" stroke-width="0.25">ctrl.</text>
<line x1="320.9" y1="220.7" x2="320.9" y2="223.5" stroke="#222" stroke-width="0.9"/>
<text x="324.09999999999997" y="224.2" text-anchor="end" style="font-size:9.2px;" transform="rotate(-90 324.09999999999997 224.2)" stroke="#111" stroke-width="0.25">10000</text>
<line x1="331.6" y1="220.7" x2="331.6" y2="223.5" stroke="#222" stroke-width="0.9"/>
<text x="334.8" y="224.2" text-anchor="end" style="font-size:9.2px;" transform="rotate(-90 334.8 224.2)" stroke="#111" stroke-width="0.25">3000</text>
<line x1="342.5" y1="220.7" x2="342.5" y2="223.5" stroke="#222" stroke-width="0.9"/>
<text x="345.7" y="224.2" text-anchor="end" style="font-size:9.2px;" transform="rotate(-90 345.7 224.2)" stroke="#111" stroke-width="0.25">1000</text>
<line x1="353.2" y1="220.7" x2="353.2" y2="223.5" stroke="#222" stroke-width="0.9"/>
<text x="356.4" y="224.2" text-anchor="end" style="font-size:9.2px;" transform="rotate(-90 356.4 224.2)" stroke="#111" stroke-width="0.25">300</text>
<line x1="364" y1="220.7" x2="364" y2="223.5" stroke="#222" stroke-width="0.9"/>
<text x="367.2" y="224.2" text-anchor="end" style="font-size:9.2px;" transform="rotate(-90 367.2 224.2)" stroke="#111" stroke-width="0.25">100</text>
<line x1="374.7" y1="220.7" x2="374.7" y2="223.5" stroke="#222" stroke-width="0.9"/>
<text x="377.9" y="224.2" text-anchor="end" style="font-size:9.2px;" transform="rotate(-90 377.9 224.2)" stroke="#111" stroke-width="0.25">30</text>
<text x="343.7" y="261" text-anchor="middle" style="font-size:8.7px;font-weight:bold;" stroke="#111" stroke-width="0.3">dilution [1/x]</text>
<text x="281.3" y="181.9" text-anchor="middle" style="font-size:9px;font-weight:bold;" transform="rotate(-90 281.3 181.9)" textLength="51.5" lengthAdjust="spacing" stroke="#111" stroke-width="0.3">IL-2  [pg/mL]</text>
<polyline points="310.4,197.5 320.9,196.8 331.6,195.4 342.5,210.4 353.2,209.3 364,199.9 374.7,170.4" fill="none" stroke="#222" stroke-width="0.85"/>
<polyline points="310.4,198.3 320.9,203.4 331.6,202.2 342.5,207.6 353.2,209.6 364,199 374.7,193.8" fill="none" stroke="#222" stroke-width="0.85"/>
<line x1="374.7" y1="167" x2="374.7" y2="174" stroke="#555" stroke-width="0.7"/>
<line x1="372.9" y1="167" x2="376.5" y2="167" stroke="#555" stroke-width="0.7"/>
<line x1="372.9" y1="174" x2="376.5" y2="174" stroke="#555" stroke-width="0.7"/>
<rect x="309.1" y="197.0" width="2.6" height="2.6" fill="#000" stroke="#000" stroke-width="0.9"/>
<rect x="319.6" y="202.1" width="2.6" height="2.6" fill="#000" stroke="#000" stroke-width="0.9"/>
<rect x="330.3" y="200.9" width="2.6" height="2.6" fill="#000" stroke="#000" stroke-width="0.9"/>
<rect x="341.2" y="206.3" width="2.6" height="2.6" fill="#000" stroke="#000" stroke-width="0.9"/>
<rect x="351.9" y="208.3" width="2.6" height="2.6" fill="#000" stroke="#000" stroke-width="0.9"/>
<rect x="362.7" y="197.7" width="2.6" height="2.6" fill="#000" stroke="#000" stroke-width="0.9"/>
<rect x="373.4" y="192.5" width="2.6" height="2.6" fill="#000" stroke="#000" stroke-width="0.9"/>
<circle cx="310.4" cy="197.5" r="1.6" fill="#fff" stroke="#111" stroke-width="0.8"/>
<circle cx="320.9" cy="196.8" r="1.6" fill="#fff" stroke="#111" stroke-width="0.8"/>
<circle cx="331.6" cy="195.4" r="1.6" fill="#fff" stroke="#111" stroke-width="0.8"/>
<rect x="341.05" y="208.95" width="2.9" height="2.9" fill="#fff" stroke="#000" stroke-width="0.9"/>
<rect x="351.75" y="207.85" width="2.9" height="2.9" fill="#fff" stroke="#000" stroke-width="0.9"/>
<rect x="362.55" y="198.45" width="2.9" height="2.9" fill="#fff" stroke="#000" stroke-width="0.9"/>
<circle cx="374.7" cy="170.4" r="1.6" fill="#fff" stroke="#111" stroke-width="0.8"/>
</svg>
</body></html>
